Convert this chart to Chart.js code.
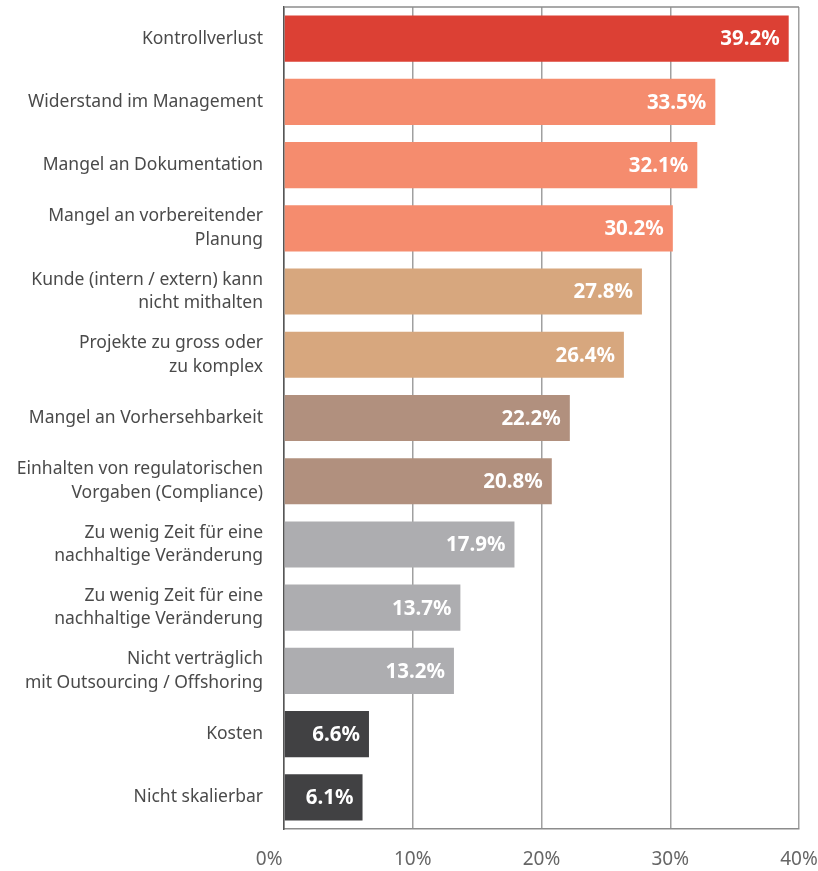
<!DOCTYPE html>
<html lang="de">
  <head>
    <meta charset="UTF-8" />
    <title>Hindernisse</title>
    <script src="https://cdn.jsdelivr.net/npm/chart.js"></script>
    <style>
      * {
        margin: 0;
        padding: 0;
        box-sizing: border-box;
      }
      body {
        background: #ffffff;
        width: 818px;
        height: 871px;
      }
      #wrap {
        position: relative;
        width: 818px;
        height: 871px;
      }
    </style>
  </head>
  <body>
    <div id="wrap"><canvas id="barChart"></canvas></div>
    <script>
      // categories (multi-line labels as arrays)
      const categories = [
        "Kontrollverlust",
        "Widerstand im Management",
        "Mangel an Dokumentation",
        ["Mangel an vorbereitender", "Planung"],
        ["Kunde (intern / extern) kann", "nicht mithalten"],
        ["Projekte zu gross oder", "zu komplex"],
        "Mangel an Vorhersehbarkeit",
        ["Einhalten von regulatorischen", "Vorgaben (Compliance)"],
        ["Zu wenig Zeit für eine", "nachhaltige Veränderung"],
        ["Zu wenig Zeit für eine", "nachhaltige Veränderung"],
        ["Nicht verträglich", "mit Outsourcing / Offshoring"],
        "Kosten",
        "Nicht skalierbar",
      ];
      const values = [39.2, 33.5, 32.1, 30.2, 27.8, 26.4, 22.2, 20.8, 17.9, 13.7, 13.2, 6.6, 6.1];
      const barColors = [
        "#dc4034",
        "#f58c6e", "#f58c6e", "#f58c6e",
        "#d7a77e", "#d7a77e",
        "#b1907e", "#b1907e",
        "#adadb0", "#adadb0", "#adadb0",
        "#414143", "#414143",
      ];
      const tickValues = [0, 10, 20, 30, 40];

      const fontFamily = "'Noto Sans', 'DejaVu Sans', sans-serif";

      // draws the value text inside the end of each bar
      const valueLabels = {
        id: "valueLabels",
        afterDatasetsDraw(chart) {
          const ctx = chart.ctx;
          const meta = chart.getDatasetMeta(0);
          ctx.save();
          ctx.font = "bold 20.5px " + fontFamily;
          ctx.fillStyle = "#ffffff";
          ctx.textAlign = "right";
          ctx.textBaseline = "middle";
          meta.data.forEach((bar, i) => {
            ctx.fillText(values[i].toFixed(1) + "%", bar.x - 9, bar.y + 1);
          });
          ctx.restore();
        },
      };

      // top line of the plot frame
      const frame = {
        id: "frame",
        beforeDatasetsDraw(chart) {
          const a = chart.chartArea;
          const ctx = chart.ctx;
          ctx.save();
          ctx.strokeStyle = "#8c8c8c";
          ctx.lineWidth = 1.5;
          ctx.beginPath();
          ctx.moveTo(a.left, a.top);
          ctx.lineTo(a.right, a.top);
          ctx.stroke();
          ctx.restore();
        },
      };

      new Chart(document.getElementById("barChart"), {
        type: "bar",
        data: {
          labels: categories,
          datasets: [
            {
              data: values,
              backgroundColor: barColors,
              borderWidth: 0,
              barPercentage: 0.73,
              categoryPercentage: 1,
            },
          ],
        },
        options: {
          indexAxis: "y",
          responsive: true,
          maintainAspectRatio: false,
          animation: false,
          layout: { padding: { top: 7, right: 19, bottom: 0, left: 0 } },
          plugins: {
            legend: { display: false },
            tooltip: { enabled: false },
          },
          scales: {
            x: {
              min: 0,
              max: 40,
              afterBuildTicks(scale) {
                scale.ticks = tickValues.map((v) => ({ value: v }));
              },
              afterFit(scale) {
                scale.height = 42;
                scale.paddingLeft = 0;
                scale.paddingRight = 0;
              },
              grid: {
                color: "#a0a0a0",
                lineWidth: 1.5,
                drawTicks: false,
              },
              border: { display: true, color: "#8c8c8c", width: 1.5 },
              ticks: {
                padding: 19,
                color: "#666666",
                font: { family: fontFamily, size: 19 },
                // the 0% label sits left of the axis, so pad it on the right
                callback: (v) => (v === 0 ? "0%      " : v + "%"),
              },
            },
            y: {
              afterFit(scale) {
                scale.width = 284;
                scale.paddingTop = 0;
                scale.paddingBottom = 0;
              },
              grid: { display: false, drawTicks: false },
              border: { display: true, color: "#555555", width: 1.5 },
              ticks: {
                padding: 21,
                color: "#4a4a4a",
                font: { family: fontFamily, size: 17.5, lineHeight: 1.35 },
              },
            },
          },
        },
        plugins: [frame, valueLabels],
      });
    </script>
  </body>
</html>
